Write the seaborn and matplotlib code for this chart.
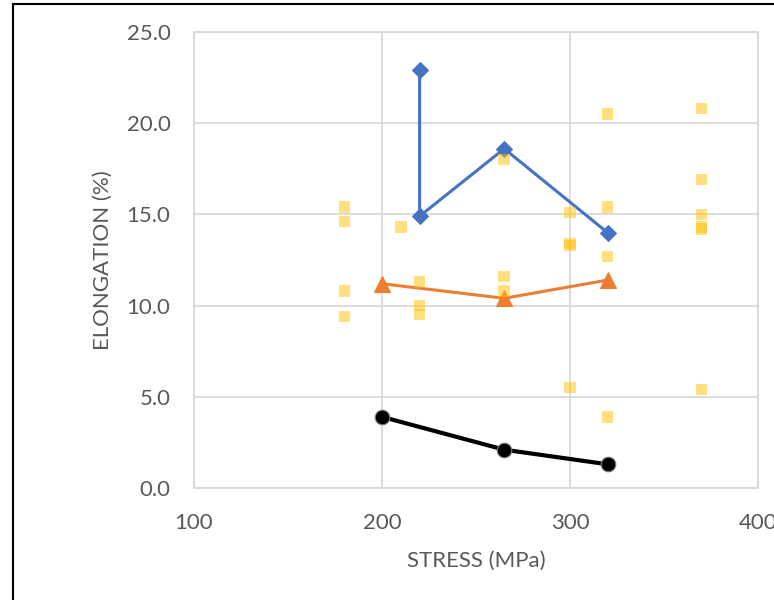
import matplotlib
matplotlib.use("Agg")
import matplotlib.pyplot as plt
import seaborn as sns
import pandas as pd
from matplotlib.patches import Rectangle

# Data
blue_x = [220, 220, 265, 320]
blue_y = [22.9, 14.9, 18.6, 14.0]
orange_x = [200, 265, 320]
orange_y = [11.2, 10.4, 11.4]
black_x = [200, 265, 320]
black_y = [3.9, 2.1, 1.3]
sq_x = [180, 180, 180, 180, 210, 220, 220, 220, 265, 265, 265,
        300, 300, 300, 300, 320, 320, 320, 320, 370, 370, 370, 370, 370, 370]
sq_y = [15.4, 14.6, 10.8, 9.4, 14.3, 11.3, 10.0, 9.5, 18.0, 11.6, 10.8,
        15.1, 13.4, 13.3, 5.5, 20.5, 15.4, 12.7, 3.9, 20.8, 16.9, 15.0, 14.3, 14.2, 5.4]
x_ticks = [100, 200, 300, 400]
y_ticks = [0, 5, 10, 15, 20, 25]

sns.set_theme(style="white")
plt.rcParams['font.family'] = ['Lato', 'DejaVu Sans']

fig = plt.figure(figsize=(7.74, 6.0), dpi=100)
ax = fig.add_axes([194/774, 112/600, 564/774, 456/600])

sns.lineplot(x=blue_x, y=blue_y, sort=False, estimator=None, ax=ax, color='#4472C4', lw=2.2,
             marker='D', markersize=8.5, markeredgecolor='#4472C4', zorder=3)
sns.lineplot(x=orange_x, y=orange_y, sort=False, estimator=None, ax=ax, color='#ED7D31', lw=2.2,
             marker='^', markersize=11, markeredgecolor='#ED7D31', zorder=3)
sns.lineplot(x=black_x, y=black_y, sort=False, estimator=None, ax=ax, color='black', lw=3,
             marker='o', markersize=10.5, markeredgecolor='#7F7F7F', markeredgewidth=0.8, zorder=3)
sns.scatterplot(x=sq_x, y=sq_y, ax=ax, marker='s', s=68, color='#FFC000', alpha=0.5,
                edgecolor='none', linewidth=0, zorder=4)

ax.set_xlim(100, 400)
ax.set_ylim(0, 25)
ax.set_xticks(x_ticks)
ax.set_yticks(y_ticks)
ax.set_yticklabels([f"{v:.1f}" for v in y_ticks])
ax.grid(True, color='#D9D9D9', lw=1.3)
ax.set_axisbelow(True)
for s in ax.spines.values():
    s.set_color('#D9D9D9')
    s.set_linewidth(1.3)
ax.tick_params(axis='both', length=0, labelsize=16, labelcolor='#595959')
ax.tick_params(axis='x', pad=18)
ax.tick_params(axis='y', pad=17)
ax.set_xlabel("STRESS (MPa)", fontsize=16, color='#595959', labelpad=13)
ax.set_ylabel("ELONGATION (%)", fontsize=16, color='#595959', labelpad=10)

fig.patches.append(Rectangle((13/774, -0.2), 1.5, (600-4)/600 + 0.2, transform=fig.transFigure,
                             fill=False, edgecolor='black', lw=1.5, zorder=10))

fig.savefig("out.png", dpi=100)
